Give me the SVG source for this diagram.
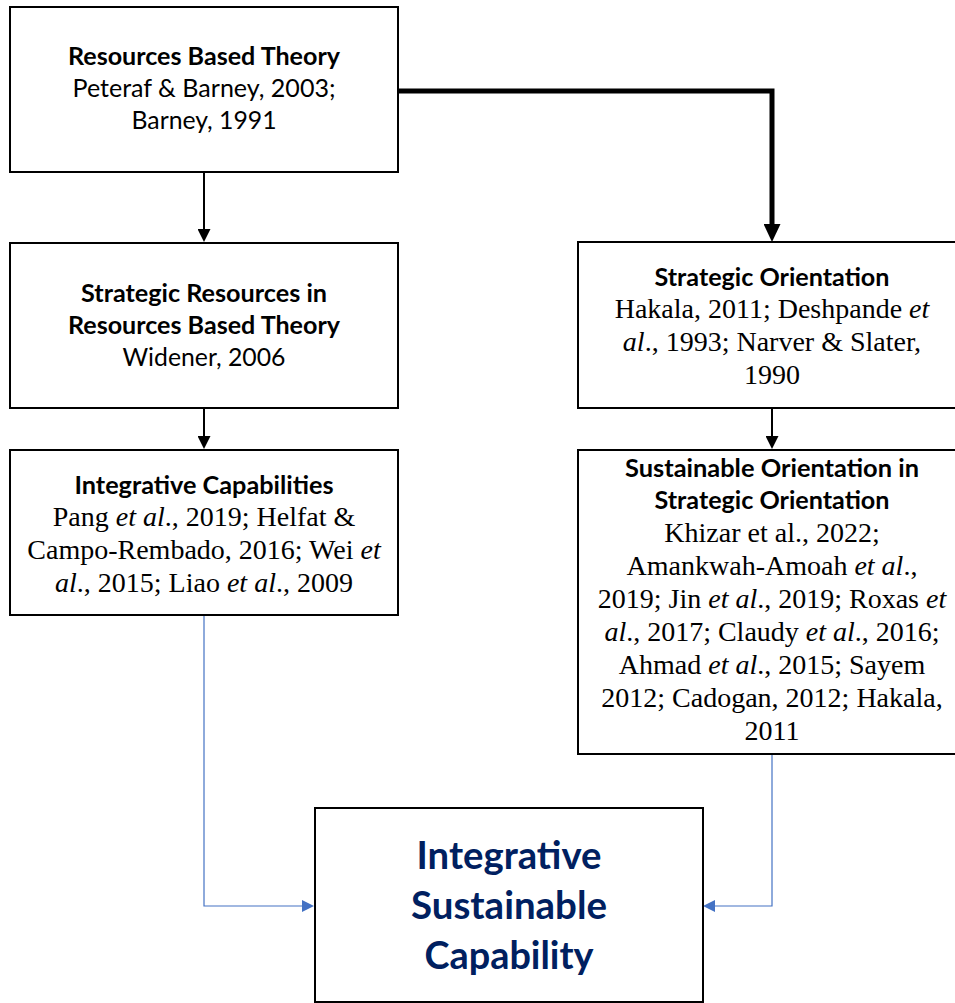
<svg xmlns="http://www.w3.org/2000/svg" width="955" height="1003" viewBox="0 0 955 1003">
<style>
.box{fill:#fff;stroke:#000;stroke-width:2}
.h{font-family:Lato,"Liberation Sans",sans-serif;font-weight:700;font-size:25px;fill:#000;text-anchor:middle}
.c{font-family:Lato,"Liberation Sans",sans-serif;font-size:25px;fill:#000;text-anchor:middle}
.t{font-family:"Liberation Serif","Times New Roman",serif;font-size:28px;fill:#000;text-anchor:middle}
.big{font-family:Lato,"Liberation Sans",sans-serif;font-weight:700;font-size:37.5px;fill:#002060;text-anchor:middle}
.blk{fill:none;stroke:#000;stroke-width:2}
.thick{fill:none;stroke:#000;stroke-width:5}
.blue{fill:none;stroke:#4472C4;stroke-width:1.2}
</style>
<defs>
<marker id="ab" markerUnits="userSpaceOnUse" markerWidth="13" markerHeight="13" refX="0" refY="6.5" orient="auto"><path d="M0,0 L13,6.5 L0,13 z" fill="#000"/></marker>
<marker id="at" markerUnits="userSpaceOnUse" markerWidth="18" markerHeight="17" refX="0" refY="8.5" orient="auto"><path d="M0,0 L18,8.5 L0,17 z" fill="#000"/></marker>
<marker id="abl" markerUnits="userSpaceOnUse" markerWidth="12" markerHeight="12" refX="0" refY="6" orient="auto"><path d="M0,0 L12,6 L0,12 z" fill="#4472C4"/></marker>
</defs>
<g id="connectors">
<path class="thick" d="M398,91 H772 V224" marker-end="url(#at)"/>
<path class="blk" d="M204,172 V229" marker-end="url(#ab)"/>
<path class="blk" d="M204,408 V436" marker-end="url(#ab)"/>
<path class="blk" d="M772,408 V436" marker-end="url(#ab)"/>
<path class="blue" d="M204,615 V906 H302" marker-end="url(#abl)"/>
<path class="blue" d="M772,754 V906 H715" marker-end="url(#abl)"/>
</g>
<g id="rbt">
<rect class="box" x="10" y="7" width="388" height="165"/>
<text class="h" x="204" y="65" textLength="272" lengthAdjust="spacingAndGlyphs">Resources Based Theory</text>
<text class="c" x="204" y="97" textLength="263" lengthAdjust="spacingAndGlyphs">Peteraf &amp; Barney, 2003;</text>
<text class="c" x="204" y="129" textLength="145" lengthAdjust="spacingAndGlyphs">Barney, 1991</text>
</g>
<g id="srrbt">
<rect class="box" x="10" y="243" width="388" height="165"/>
<text class="h" x="204" y="302" textLength="246" lengthAdjust="spacingAndGlyphs">Strategic Resources in</text>
<text class="h" x="204" y="334" textLength="272" lengthAdjust="spacingAndGlyphs">Resources Based Theory</text>
<text class="c" x="204" y="366" textLength="163" lengthAdjust="spacingAndGlyphs">Widener, 2006</text>
</g>
<g id="ic">
<rect class="box" x="10" y="450" width="388" height="165"/>
<text class="h" x="204" y="494" textLength="259" lengthAdjust="spacingAndGlyphs">Integrative Capabilities</text>
<text class="t" x="204" y="526">Pang <tspan font-style="italic">et al</tspan>., 2019; Helfat &amp;</text>
<text class="t" x="204" y="559">Campo-Rembado, 2016; Wei <tspan font-style="italic">et</tspan></text>
<text class="t" x="204" y="592"><tspan font-style="italic">al</tspan>., 2015; Liao <tspan font-style="italic">et al</tspan>., 2009</text>
</g>
<g id="so">
<rect class="box" x="578" y="242" width="390" height="166"/>
<text class="h" x="772" y="286" textLength="235" lengthAdjust="spacingAndGlyphs">Strategic Orientation</text>
<text class="t" x="772" y="318">Hakala, 2011; Deshpande <tspan font-style="italic">et</tspan></text>
<text class="t" x="772" y="351"><tspan font-style="italic">al</tspan>., 1993; Narver &amp; Slater,</text>
<text class="t" x="772" y="384">1990</text>
</g>
<g id="sost">
<rect class="box" x="578" y="450" width="390" height="304"/>
<text class="h" x="772" y="477" textLength="294" lengthAdjust="spacingAndGlyphs">Sustainable Orientation in</text>
<text class="h" x="772" y="509" textLength="235" lengthAdjust="spacingAndGlyphs">Strategic Orientation</text>
<text class="t" x="772" y="542">Khizar et al., 2022;</text>
<text class="t" x="772" y="575">Amankwah-Amoah <tspan font-style="italic">et al</tspan>.,</text>
<text class="t" x="772" y="608">2019; Jin <tspan font-style="italic">et al</tspan>., 2019;  Roxas <tspan font-style="italic">et</tspan></text>
<text class="t" x="772" y="641"><tspan font-style="italic">al</tspan>., 2017; Claudy <tspan font-style="italic">et al</tspan>., 2016;</text>
<text class="t" x="772" y="674">Ahmad <tspan font-style="italic">et al</tspan>., 2015; Sayem</text>
<text class="t" x="772" y="707">2012; Cadogan, 2012; Hakala,</text>
<text class="t" x="772" y="740">2011</text>
</g>
<g id="isc">
<rect class="box" x="315" y="808" width="388" height="194"/>
<text class="big" x="509" y="869" textLength="185" lengthAdjust="spacingAndGlyphs">Integrative</text>
<text class="big" x="509" y="919" textLength="196" lengthAdjust="spacingAndGlyphs">Sustainable</text>
<text class="big" x="509" y="969" textLength="169" lengthAdjust="spacingAndGlyphs">Capability</text>
</g>
</svg>
